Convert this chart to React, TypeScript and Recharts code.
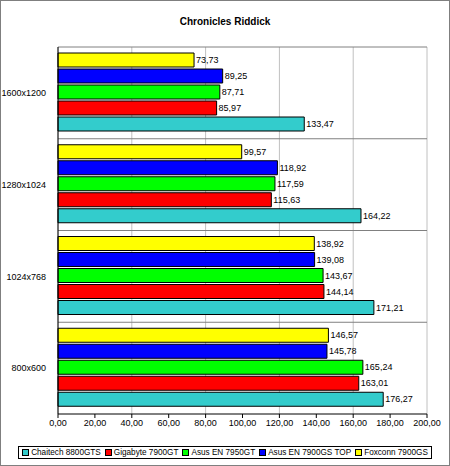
import {
  BarChart,
  Bar,
  XAxis,
  YAxis,
  CartesianGrid,
  LabelList,
  Legend,
} from "recharts";

const resolutions = ["1600x1200", "1280x1024", "1024x768", "800x600"];

const chaitech = [133.47, 164.22, 171.21, 176.27];
const gigabyte = [85.97, 115.63, 144.14, 163.01];
const asus7950 = [87.71, 117.59, 143.67, 165.24];
const asusTop = [89.25, 118.92, 139.08, 145.78];
const foxconn = [73.73, 99.57, 138.92, 146.57];

const xTicks = [0, 20, 40, 60, 80, 100, 120, 140, 160, 180, 200];

// legend order (Excel shows it reversed compared to the bars)
const series = [
  { key: "chaitech", name: "Chaitech 8800GTS", color: "#33CCCC" },
  { key: "gigabyte", name: "Gigabyte 7900GT", color: "#FF0000" },
  { key: "asus7950", name: "Asus EN 7950GT", color: "#00FF00" },
  { key: "asusTop", name: "Asus EN 7900GS TOP", color: "#0000FF" },
  { key: "foxconn", name: "Foxconn 7900GS", color: "#FFFF00" },
];

const chartData = resolutions.map((res, i) => ({
  res,
  chaitech: chaitech[i],
  gigabyte: gigabyte[i],
  asus7950: asus7950[i],
  asusTop: asusTop[i],
  foxconn: foxconn[i],
}));

const fmt = (v: number) => v.toFixed(2).replace(".", ",");

const font = "Arial, 'Liberation Sans', sans-serif";

function LegendBox() {
  return (
    <div style={{ display: "flex", justifyContent: "center", height: 13 }}>
      <div
        style={{
          border: "1px solid #000",
          display: "flex",
          gap: 4,
          padding: "0px 3px 0px 3px",
          fontFamily: font,
          fontSize: 8.2,
          lineHeight: "11px",
          whiteSpace: "nowrap",
          background: "#fff",
        }}
      >
        {series.map((s) => (
          <span key={s.key} style={{ display: "flex", alignItems: "center" }}>
            <span
              style={{
                width: 5,
                height: 5,
                background: s.color,
                border: "1px solid #000",
                marginRight: 2,
                display: "inline-block",
              }}
            />
            {s.name}
          </span>
        ))}
      </div>
    </div>
  );
}

export default function App() {
  const barsTopDown = [...series].reverse();
  return (
    <div
      style={{
        width: 450,
        height: 466,
        position: "relative",
        boxSizing: "border-box",
        border: "1px solid #7f7f7f",
        background: "#fff",
      }}
    >
      <style>{`body{margin:0}`}</style>
      <div
        style={{
          position: "absolute",
          top: 15,
          width: "100%",
          textAlign: "center",
          fontFamily: font,
          fontWeight: "bold",
          fontSize: 10,
        }}
      >
        Chronicles Riddick
      </div>
      <div style={{ position: "absolute", left: -1, top: -1 }}>
        <BarChart
          width={450}
          height={466}
          data={chartData}
          layout="vertical"
          margin={{ top: 47, right: 23, left: 0, bottom: 19 }}
          barCategoryGap={6}
          barGap={2}
        >
          <CartesianGrid
            horizontal={false}
            stroke="#c0c0c0"
            strokeWidth={1}
          />
          <CartesianGrid
            vertical={false}
            stroke="#808080"
            horizontalCoordinatesGenerator={({ offset }: any) =>
              resolutions.map(
                (_, i) => offset.top + (offset.height * i) / resolutions.length
              )
            }
          />
          <XAxis
            type="number"
            domain={[0, 200]}
            ticks={xTicks}
            tickFormatter={fmt}
            axisLine={{ stroke: "#000" }}
            tickLine={{ stroke: "#000" }}
            tickSize={4}
            tick={{ fontSize: 9, fill: "#000", fontFamily: font }}
            height={20}
          />
          <YAxis
            type="category"
            dataKey="res"
            width={58}
            axisLine={{ stroke: "#000" }}
            tickLine={false}
            tick={{ fontSize: 9, fill: "#000", fontFamily: font }}
            tickMargin={6}
          />
          <Legend
            content={<LegendBox />}
            verticalAlign="bottom"
            wrapperStyle={{ top: 446, bottom: "auto", left: 0, width: 450 }}
          />
          {barsTopDown.map((s) => (
            <Bar
              key={s.key}
              dataKey={s.key}
              name={s.name}
              fill={s.color}
              stroke="#000"
              strokeWidth={1}
              isAnimationActive={false}
            >
              <LabelList
                dataKey={s.key}
                position="right"
                offset={2}
                formatter={(v: any) => fmt(Number(v))}
                style={{ fontSize: 9, fill: "#000", fontFamily: font }}
              />
            </Bar>
          ))}
        </BarChart>
      </div>
    </div>
  );
}
